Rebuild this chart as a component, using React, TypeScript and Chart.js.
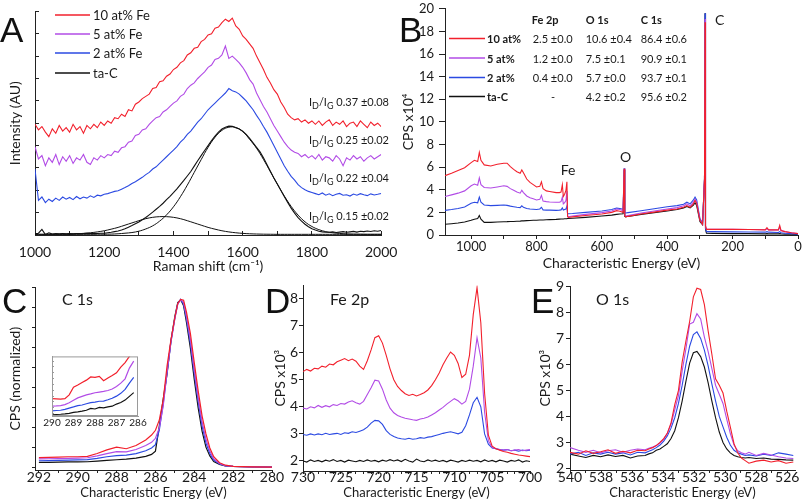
import React, { useEffect, useRef } from "react";
import { Chart, registerables } from "chart.js";

Chart.register(...registerables);

const FONT = "Lato, 'Open Sans', 'DejaVu Sans', sans-serif";
const RED = "#f2202c";
const PURPLE = "#b24ce6";
const BLUE = "#2b4ae2";
const BLACK = "#111111";
const SERIES_COLORS = [RED, PURPLE, BLUE, BLACK];
const TEXT = "#1a1a1a";

// ---------------- Panel A : Raman ----------------
const ramanShift = [
  1000, 1010, 1020, 1030, 1040, 1050, 1060, 1070, 1080, 1090,
  1100, 1110, 1120, 1130, 1140, 1150, 1160, 1170, 1180, 1190,
  1200, 1210, 1220, 1230, 1240, 1250, 1260, 1270, 1280, 1290,
  1300, 1310, 1320, 1330, 1340, 1350, 1360, 1370, 1380, 1390,
  1400, 1410, 1420, 1430, 1440, 1450, 1460, 1470, 1480, 1490,
  1500, 1510, 1520, 1530, 1540, 1550, 1560, 1570, 1580, 1590,
  1600, 1610, 1620, 1630, 1640, 1650, 1660, 1670, 1680, 1690,
  1700, 1710, 1720, 1730, 1740, 1750, 1760, 1770, 1780, 1790,
  1800, 1810, 1820, 1830, 1840, 1850, 1860, 1870, 1880, 1890,
  1900, 1910, 1920, 1930, 1940, 1950, 1960, 1970, 1980, 1990,
  2000,
];
const ramanFe10 = [
  4.95, 4.7, 4.85, 4.6, 4.4, 4.75, 4.55, 4.9, 4.65, 4.8,
  4.6, 4.95, 4.7, 4.85, 4.55, 4.9, 4.75, 4.95, 4.8, 5.05,
  4.9, 5.1, 5.0, 5.25, 5.2, 5.4, 5.3, 5.6, 5.55, 5.85,
  5.95, 6.1, 6.2, 6.3, 6.55, 6.6, 6.85, 6.9, 7.1, 7.2,
  7.4, 7.5, 7.7, 7.8, 8.05, 8.15, 8.35, 8.4, 8.65, 8.75,
  8.95, 9.0, 9.25, 9.3, 9.5, 9.65, 9.55, 9.7, 9.35, 9.2,
  8.9, 8.75, 8.55, 8.35, 8.0, 7.7, 7.4, 7.05, 6.8, 6.5,
  6.3, 5.95, 5.7, 5.4, 5.25, 5.15, 5.2, 5.05, 5.15, 5.0,
  5.1, 4.95, 5.1, 4.9, 5.05, 5.15, 4.9, 5.05, 4.95, 5.1,
  4.85, 5.0, 5.05, 4.85, 5.1, 4.95, 4.8, 5.05, 4.9, 5.0,
  4.85,
];
const ramanFe5 = [
  3.95, 3.4, 3.55, 3.1, 3.45, 3.25, 3.6, 3.15, 3.5, 3.3,
  3.55, 3.2, 3.45, 3.35, 3.6, 3.25, 3.15, 3.45, 3.35, 3.55,
  3.45, 3.6, 3.55, 3.75, 3.7, 3.9, 3.95, 4.15, 4.2, 4.45,
  4.5, 4.7, 4.75, 4.95, 5.1, 5.25, 5.3, 5.5, 5.6, 5.75,
  5.9, 6.0, 6.2, 6.3, 6.55, 6.7, 6.8, 7.0, 7.15, 7.3,
  7.5, 7.6, 7.85, 7.9, 8.05, 8.45, 7.9, 8.0, 7.85, 7.7,
  7.5, 7.25, 6.95, 6.75, 6.35, 6.05, 5.75, 5.5, 5.2, 4.9,
  4.65, 4.4, 4.15, 3.95, 3.8, 3.7, 3.65, 3.5, 3.6, 3.45,
  3.55, 3.4, 3.6, 3.35, 3.5, 3.45, 3.3, 3.55, 3.4, 3.1,
  3.45, 3.35, 3.55, 3.4, 3.5, 3.3, 3.45, 3.55, 3.4, 3.5,
  3.6,
];
const ramanFe2 = [
  2.95, 1.55, 1.7, 1.45, 1.6, 1.5, 1.65, 1.55, 1.7, 1.6,
  1.68, 1.58, 1.72, 1.62, 1.7, 1.65, 1.75, 1.68, 1.78, 1.75,
  1.82, 1.85, 1.9, 1.95, 1.98, 2.05, 2.12, 2.2, 2.3, 2.38,
  2.48, 2.58, 2.7, 2.8, 2.95, 3.05, 3.2, 3.35, 3.5, 3.65,
  3.8, 3.95, 4.15, 4.3, 4.5, 4.65, 4.85, 5.05, 5.2, 5.4,
  5.6, 5.75, 5.9, 6.05, 6.2, 6.35, 6.55, 6.45, 6.4, 6.3,
  6.15, 6.0, 5.8, 5.6, 5.35, 5.12, 4.85, 4.6, 4.3, 4.0,
  3.7, 3.4, 3.1, 2.85, 2.62, 2.45, 2.25, 2.12, 2.02, 1.95,
  1.9, 1.85, 1.8, 1.88, 1.78, 1.84, 1.76, 1.82, 1.86, 1.78,
  1.8, 1.74, 1.83, 1.78, 1.85, 1.8, 1.76, 1.84, 1.79, 1.82,
  1.86,
];
const ramanTaC = [
  0.05, 0.08, 0.25, 0.02, 0.1, 0.04, 0.06, 0.05, 0.07, 0.05,
  0.06, 0.05, 0.07, 0.06, 0.06, 0.08, 0.07, 0.06, 0.07, 0.08,
  0.08, 0.1, 0.12, 0.15, 0.18, 0.22, 0.28, 0.35, 0.42, 0.5,
  0.58, 0.68, 0.78, 0.9, 1.02, 1.15, 1.28, 1.42, 1.58, 1.73,
  1.89, 2.06, 2.25, 2.44, 2.64, 2.84, 3.08, 3.32, 3.55, 3.78,
  4.0, 4.22, 4.42, 4.6, 4.74, 4.82, 4.87, 4.86, 4.8, 4.74,
  4.64, 4.5, 4.32, 4.12, 3.92, 3.72, 3.45, 3.15, 2.85, 2.55,
  2.28, 2.0, 1.72, 1.46, 1.2, 0.98, 0.78, 0.62, 0.48, 0.37,
  0.28, 0.22, 0.17, 0.14, 0.12, 0.12, 0.14, 0.11, 0.13, 0.15,
  0.12, 0.14, 0.16, 0.13, 0.17, 0.15, 0.18, 0.16, 0.19, 0.17,
  0.2,
];
const fitShift = [
  1000, 1020, 1040, 1060, 1080, 1100, 1120, 1140, 1160, 1180,
  1200, 1220, 1240, 1260, 1280, 1300, 1320, 1340, 1360, 1380,
  1400, 1420, 1440, 1460, 1480, 1500, 1520, 1540, 1560, 1580,
  1600, 1620, 1640, 1660, 1680, 1700, 1720, 1740, 1760, 1780,
  1800, 1820, 1840, 1860, 1880, 1900, 1920, 1940, 1960, 1980,
  2000,
];
const fitDBand = [
  0.03, 0.03, 0.03, 0.032, 0.035, 0.044, 0.055, 0.073, 0.1, 0.138,
  0.19, 0.26, 0.34, 0.44, 0.54, 0.64, 0.73, 0.79, 0.82, 0.82,
  0.79, 0.73, 0.64, 0.54, 0.44, 0.34, 0.26, 0.19, 0.138, 0.1,
  0.073, 0.055, 0.044, 0.037, 0.033, 0.03, 0.03, 0.03, 0.03, 0.03,
  0.03, 0.03, 0.03, 0.03, 0.03, 0.03, 0.03, 0.03, 0.03, 0.03,
  0.03,
];
const fitGBand = [
  0.03, 0.03, 0.03, 0.03, 0.03, 0.03, 0.03, 0.03, 0.03, 0.035,
  0.036, 0.04, 0.055, 0.08, 0.11, 0.17, 0.27, 0.41, 0.62, 0.9,
  1.26, 1.71, 2.23, 2.8, 3.37, 3.92, 4.37, 4.68, 4.82, 4.81,
  4.63, 4.28, 3.88, 3.38, 2.83, 2.28, 1.75, 1.28, 0.89, 0.59,
  0.38, 0.24, 0.15, 0.1, 0.07, 0.05, 0.04, 0.035, 0.03, 0.03,
  0.03,
];
const ramanLegend = ["10 at% Fe", "5 at% Fe", "2 at% Fe", "ta-C"];
const idigRatios = ["0.37 ±0.08", "0.25 ±0.02", "0.22 ±0.04", "0.15 ±0.02"];
const ramanTicks = [1000, 1200, 1400, 1600, 1800, 2000];

// ---------------- Panel B : XPS survey ----------------
const surveyEnergy = [
  1080, 1060, 1040, 1020, 1000, 990, 980, 975, 970, 960,
  940, 920, 900, 890, 880, 870, 860, 850, 845, 840,
  830, 820, 810, 800, 790, 785, 780, 770, 760, 740,
  730, 725, 721, 718, 714, 710, 707, 705, 703, 690,
  650, 600, 570, 555, 545, 535, 532, 530, 527, 520,
  480, 440, 400, 370, 350, 340, 330, 320, 315, 310,
  300, 292, 286, 284.5, 283, 280, 260, 200, 150, 100,
  95, 90, 60, 56, 52, 40, 20, 0,
];
const surveyFe10 = [
  5.25, 5.45, 5.7, 5.95, 6.4, 6.6, 6.5, 7.3, 6.6, 6.2,
  6.1, 6.25, 6.35, 6.35, 6.05, 5.8, 5.6, 5.45, 5.75, 5.5,
  4.95, 4.65, 4.45, 4.25, 4.3, 4.7, 4.1, 3.9, 3.85, 3.75,
  3.75, 3.8, 4.45, 3.4, 3.6, 3.95, 4.7, 1.65, 1.55, 1.6,
  1.72, 1.85, 2.0, 2.15, 2.1, 2.0, 5.85, 1.7, 1.6, 1.65,
  1.85, 2.02, 2.2, 2.3, 2.45, 2.6, 2.45, 2.75, 3.05, 2.8,
  1.3, 0.95, 5.0, 18.8, 0.8, 0.5, 0.5, 0.5, 0.48, 0.45,
  0.65, 0.45, 0.45, 0.85, 0.4, 0.3, 0.2, 0.12,
];
const surveyFe5 = [
  3.4, 3.55, 3.7, 3.9, 4.35, 4.5, 4.4, 5.05, 4.45, 4.2,
  4.15, 4.25, 4.35, 4.3, 4.1, 3.95, 3.8, 3.7, 3.95, 3.75,
  3.45, 3.3, 3.2, 3.1, 3.15, 3.5, 3.0, 2.95, 2.92, 2.9,
  2.9, 2.95, 3.35, 2.75, 2.85, 3.05, 3.9, 1.7, 1.62, 1.68,
  1.82, 1.98, 2.12, 2.3, 2.25, 2.15, 5.85, 1.75, 1.68, 1.72,
  1.95, 2.12, 2.3, 2.42, 2.58, 2.75, 2.58, 2.9, 3.15, 2.92,
  1.35, 0.95, 5.0, 19.1, 0.8, 0.5, 0.5, 0.5, 0.48, 0.46,
  0.55, 0.45, 0.44, 0.7, 0.4, 0.3, 0.2, 0.12,
];
const surveyFe2 = [
  2.18, 2.25, 2.35, 2.48, 2.8, 2.9, 2.85, 3.35, 2.9, 2.65,
  2.6, 2.62, 2.65, 2.62, 2.55, 2.5, 2.45, 2.42, 2.58, 2.45,
  2.35, 2.3, 2.28, 2.25, 2.3, 2.45, 2.22, 2.2, 2.2, 2.18,
  2.2, 2.22, 2.4, 2.2, 2.25, 2.3, 2.55, 1.9, 1.88, 1.9,
  2.0, 2.12, 2.25, 2.38, 2.35, 2.28, 5.9, 2.0, 1.95, 1.98,
  2.15, 2.32, 2.5, 2.6, 2.72, 2.9, 2.75, 3.1, 3.35, 3.1,
  1.45, 1.05, 5.0, 19.6, 0.6, 0.3, 0.3, 0.28, 0.26, 0.25,
  0.3, 0.25, 0.22, 0.3, 0.2, 0.15, 0.12, 0.08,
];
const surveyTaC = [
  0.95, 1.0, 1.06, 1.15, 1.3, 1.4, 1.45, 1.72, 1.4, 1.12,
  1.12, 1.15, 1.17, 1.18, 1.2, 1.2, 1.22, 1.23, 1.25, 1.25,
  1.27, 1.28, 1.3, 1.3, 1.32, 1.32, 1.33, 1.35, 1.36, 1.38,
  1.4, 1.41, 1.42, 1.42, 1.43, 1.44, 1.45, 1.46, 1.46, 1.48,
  1.56, 1.68, 1.76, 1.82, 1.85, 1.88, 5.75, 1.65, 1.6, 1.65,
  1.82, 1.98, 2.12, 2.25, 2.4, 2.52, 2.4, 2.65, 2.85, 2.6,
  1.2, 0.9, 5.0, 19.6, 0.5, 0.15, 0.14, 0.12, 0.12, 0.1,
  0.12, 0.1, 0.1, 0.12, 0.1, 0.08, 0.06, 0.05,
];
const surveyTicks = [1000, 800, 600, 400, 200, 0];
const surveyYTicks = [0, 2, 4, 6, 8, 10, 12, 14, 16, 18, 20];
const surveyPeakLabels = ["Fe", "O", "C"];
const tableHeaders = ["Fe 2p", "O 1s", "C 1s"];
const tableSamples = ["10 at%", "5 at%", "2 at%", "ta-C"];
const tableFe2p = ["2.5 ±0.0", "1.2 ±0.0", "0.4 ±0.0", "-"];
const tableO1s = ["10.6 ±0.4", "7.5 ±0.1", "5.7 ±0.0", "4.2 ±0.2"];
const tableC1s = ["86.4 ±0.6", "90.9 ±0.1", "93.7 ±0.1", "95.6 ±0.2"];

// ---------------- Panel C : C 1s ----------------
const c1sEnergy = [
  292, 291.5, 291, 290.5, 290, 289.5, 289, 288.5, 288, 287.5,
  287, 286.5, 286.2, 286, 285.8, 285.6, 285.4, 285.2, 285, 284.85,
  284.7, 284.55, 284.4, 284.2, 284, 283.8, 283.6, 283.4, 283.2, 283,
  282.7, 282.4, 282, 281, 280,
];
const c1sFe10 = [
  0.26, 0.265, 0.27, 0.28, 0.28, 0.29, 0.36, 0.45, 0.52, 0.48,
  0.56, 0.7, 0.82, 0.94, 1.2, 1.7, 2.55, 3.2, 3.75, 4.1,
  4.2, 4.18, 3.88, 3.35, 2.62, 1.92, 1.3, 0.85, 0.5, 0.28,
  0.13, 0.07, 0.04, 0.03, 0.02,
];
const c1sFe5 = [
  0.225, 0.23, 0.235, 0.24, 0.245, 0.255, 0.3, 0.36, 0.41, 0.4,
  0.46, 0.56, 0.64, 0.74, 1.0, 1.55, 2.4, 3.15, 3.72, 4.08,
  4.2, 4.12, 3.78, 3.2, 2.45, 1.75, 1.15, 0.72, 0.42, 0.23,
  0.11, 0.06, 0.04, 0.03, 0.02,
];
const c1sFe2 = [
  0.18, 0.185, 0.19, 0.195, 0.2, 0.21, 0.24, 0.28, 0.31, 0.32,
  0.36, 0.43, 0.5, 0.58, 0.95, 1.6, 2.38, 3.15, 3.74, 4.1,
  4.2, 4.08, 3.7, 3.1, 2.35, 1.65, 1.05, 0.62, 0.36, 0.2,
  0.1, 0.05, 0.04, 0.03, 0.02,
];
const c1sTaC = [
  0.14, 0.14, 0.145, 0.15, 0.15, 0.155, 0.17, 0.19, 0.205, 0.22,
  0.245, 0.29, 0.34, 0.42, 1.05, 1.72, 2.35, 3.18, 3.78, 4.12,
  4.19, 4.04, 3.62, 2.98, 2.2, 1.5, 0.92, 0.52, 0.3, 0.16,
  0.09, 0.05, 0.04, 0.03, 0.02,
];
const c1sTicks = [292, 290, 288, 286, 284, 282, 280];
const insetEnergy = [
  290, 289.8, 289.6, 289.4, 289.2, 289, 288.8, 288.6, 288.4, 288.2,
  288, 287.8, 287.6, 287.4, 287.2, 287, 286.8, 286.6, 286.4, 286.2,
];
const insetFe10 = [
  0.279, 0.277, 0.274, 0.279, 0.311, 0.377, 0.395, 0.416, 0.437, 0.464,
  0.461, 0.469, 0.432, 0.456, 0.477, 0.5, 0.548, 0.587, 0.64, 0.7,
];
const insetFe5 = [
  0.214, 0.216, 0.219, 0.227, 0.243, 0.264, 0.285, 0.298, 0.311, 0.319,
  0.329, 0.335, 0.34, 0.348, 0.361, 0.382, 0.411, 0.448, 0.54, 0.6,
];
const insetFe2 = [
  0.174, 0.177, 0.179, 0.187, 0.198, 0.208, 0.219, 0.224, 0.235, 0.245,
  0.248, 0.256, 0.258, 0.269, 0.282, 0.3, 0.324, 0.358, 0.411, 0.46,
];
const insetTaC = [
  0.14, 0.143, 0.145, 0.148, 0.153, 0.161, 0.166, 0.172, 0.179, 0.195,
  0.19, 0.203, 0.2, 0.208, 0.214, 0.232, 0.245, 0.266, 0.298, 0.33,
];
const insetTicks = [290, 289, 288, 287, 286];

// ---------------- Panel D : Fe 2p ----------------
const fe2pEnergy = [
  730, 729.5, 729, 728.5, 728, 727.5, 727, 726.5, 726, 725.5,
  725, 724.5, 724, 723.5, 723, 722.5, 722, 721.5, 721, 720.5,
  720, 719.5, 719, 718.5, 718, 717.5, 717, 716.5, 716, 715.5,
  715, 714.5, 714, 713.5, 713, 712.5, 712, 711.5, 711, 710.5,
  710, 709.5, 709, 708.5, 708, 707.5, 707, 706.5, 706, 705.5,
  705, 704.5, 704, 703.5, 703, 702.5, 702, 701.5, 701, 700.5,
  700,
];
const fe2pFe10 = [
  5.3, 5.38, 5.32, 5.42, 5.4, 5.5, 5.46, 5.58, 5.55, 5.66,
  5.72, 5.78, 5.7, 5.76, 5.68, 5.5, 5.38, 5.7, 6.1, 6.55,
  6.62, 6.35, 5.9, 5.4, 5.0, 4.75, 4.6, 4.48, 4.42, 4.46,
  4.4, 4.45, 4.52, 4.62, 4.78, 5.0, 5.25, 5.55, 5.8, 6.02,
  5.9, 5.6, 5.08, 5.2, 5.9, 7.4, 8.4, 7.1, 4.5, 2.95,
  2.55, 2.45, 2.4, 2.35, 2.32, 2.28, 2.25, 2.22, 2.2, 2.18,
  2.16,
];
const fe2pFe5 = [
  3.95, 3.92, 4.0, 3.96, 4.05, 3.98, 4.04, 4.0, 4.08, 4.05,
  4.12, 4.1, 4.18, 4.22, 4.15, 4.1, 4.2, 4.45, 4.7, 4.98,
  4.95, 4.65, 4.25, 3.95, 3.78, 3.68, 3.62, 3.58, 3.55, 3.52,
  3.5, 3.55, 3.58, 3.62, 3.7, 3.78, 3.88, 3.98, 4.1, 4.2,
  4.3, 4.22, 4.1, 4.2, 4.65, 5.5, 6.55, 5.8, 3.8, 2.75,
  2.5, 2.45, 2.42, 2.4, 2.42, 2.38, 2.4, 2.42, 2.38, 2.4,
  2.42,
];
const fe2pFe2 = [
  2.98, 2.95, 3.0, 2.96, 3.0, 2.97, 3.02, 2.98, 3.0, 3.02,
  2.98, 3.04, 3.02, 3.08, 3.05, 3.1, 3.15, 3.25, 3.4, 3.5,
  3.48, 3.35, 3.12, 2.98, 2.9, 2.85, 2.82, 2.8, 2.84, 2.8,
  2.82, 2.86, 2.84, 2.88, 2.9, 2.94, 2.98, 3.02, 3.05, 3.08,
  3.04, 3.0, 3.06, 3.3, 3.7, 4.15, 4.35, 4.0, 3.0, 2.62,
  2.48, 2.45, 2.42, 2.4, 2.42, 2.38, 2.4, 2.36, 2.4, 2.38,
  2.4,
];
const fe2pTaC = [
  2.0, 1.96, 2.04, 1.98, 2.02, 1.97, 2.03, 1.99, 2.05, 1.98,
  2.02, 1.96, 2.03, 2.0, 1.97, 2.02, 1.98, 2.04, 1.99, 2.02,
  1.97, 2.03, 1.99, 2.05, 2.0, 2.04, 1.98, 2.06, 2.0, 1.96,
  2.07, 2.0, 1.97, 2.04, 1.99, 2.03, 1.98, 2.02, 1.97, 2.03,
  2.0, 1.96, 2.02, 1.98, 2.03, 1.99, 2.02, 1.97, 2.04, 1.98,
  2.02, 1.97, 2.03, 2.0, 1.96, 2.02, 1.99, 2.04, 1.96, 2.01,
  1.98,
];
const fe2pTicks = [730, 725, 720, 715, 710, 705, 700];
const fe2pYTicks = [2, 3, 4, 5, 6, 7, 8];

// ---------------- Panel E : O 1s ----------------
const o1sEnergy = [
  540, 539.46, 538.98, 538.5, 538.03, 537.55, 537.07, 536.59, 536.11, 535.64,
  535.16, 534.92, 534.68, 534.44, 534.2, 533.96, 533.73, 533.49, 533.25, 533.01,
  532.77, 532.53, 532.29, 532.05, 531.82, 531.58, 531.34, 531.1, 530.86, 530.62,
  530.38, 530.14, 529.9, 529.67, 529.43, 529.19, 528.95, 528.71, 528.47, 528.0,
  527.52, 527.04, 526.56, 526.08, 525.61,
];
const o1sFe10 = [
  2.62, 2.55, 2.68, 2.58, 2.64, 2.72, 2.58, 2.66, 2.6, 2.7,
  2.68, 2.75, 2.8, 2.88, 3.0, 3.15, 3.35, 3.75, 4.45, 5.0,
  6.1, 6.9, 7.65, 8.6, 8.93, 8.88, 8.3, 7.3, 6.4, 5.45,
  5.2, 4.9, 4.2, 3.6, 2.95, 2.6, 2.4, 2.3, 2.2, 2.28,
  2.32, 2.25, 2.3, 2.2, 2.25,
];
const o1sFe5 = [
  2.8, 2.7, 2.62, 2.7, 2.6, 2.68, 2.72, 2.62, 2.7, 2.75,
  2.72, 2.78, 2.82, 2.88, 2.98, 3.12, 3.35, 3.7, 4.25, 4.8,
  5.75, 6.6, 7.55, 7.62, 7.95, 7.75, 7.05, 6.5, 5.85, 5.2,
  4.85, 4.5, 3.9, 3.35, 2.9, 2.68, 2.6, 2.55, 2.62, 2.5,
  2.58, 2.52, 2.45, 2.4, 2.38,
];
const o1sFe2 = [
  2.55, 2.62, 2.5, 2.6, 2.55, 2.62, 2.55, 2.6, 2.52, 2.62,
  2.6, 2.66, 2.72, 2.8, 2.9, 3.05, 3.25, 3.55, 3.95, 4.5,
  5.2, 6.0, 6.7, 7.15, 7.25, 7.0, 6.55, 5.95, 5.25, 4.6,
  4.0, 3.6, 3.2, 2.9, 2.7, 2.6, 2.55, 2.5, 2.52, 2.48,
  2.55, 2.5, 2.6, 2.55, 2.5,
];
const o1sTaC = [
  2.55, 2.48, 2.42, 2.5, 2.45, 2.52, 2.46, 2.5, 2.4, 2.48,
  2.5, 2.56, 2.6, 2.7, 2.75, 2.85, 2.95, 3.15, 3.45, 3.95,
  4.6, 5.35, 6.05, 6.45, 6.5, 6.3, 5.9, 5.3, 4.6, 3.95,
  3.4, 3.0, 2.75, 2.6, 2.5, 2.45, 2.42, 2.4, 2.42, 2.38,
  2.4, 2.36, 2.35, 2.33, 2.32,
];
const o1sTicks = [540, 538, 536, 534, 532, 530, 528, 526];
const o1sYTicks = [2, 3, 4, 5, 6, 7, 8, 9];

const panelLetters = ["A", "B", "C", "D", "E"];

// ---------------- helpers ----------------
const pts = (xs: number[], ys: number[]) => xs.map((x, i) => ({ x, y: ys[i] }));
const series = (xs: number[], ys: number[], color: string, width = 1.1, tension = 0) => ({
  data: pts(xs, ys),
  borderColor: color,
  borderWidth: width,
  pointRadius: 0,
  fill: false,
  tension,
});
const fourSeries = (xs: number[], arrs: number[][], width = 1.1) =>
  arrs.map((a, i) => series(xs, a, SERIES_COLORS[i], width));

function axis(o: any) {
  const col = o.color ?? "#222";
  return {
    type: "linear",
    position: o.pos,
    min: o.min,
    max: o.max,
    reverse: !!o.reverse,
    afterFit: (s: any) => {
      if (o.pos === "left") s.width = o.size;
      else s.height = o.size;
    },
    border: { display: true, color: col, width: 1 },
    grid: {
      display: true,
      drawOnChartArea: false,
      drawTicks: true,
      tickLength: o.tickLen ?? 4,
      color: col,
      lineWidth: 1,
    },
    ticks: {
      display: true,
      stepSize: o.step,
      includeBounds: false,
      autoSkip: false,
      maxRotation: 0,
      minRotation: 0,
      padding: o.pad ?? 3,
      color: TEXT,
      font: { family: FONT, size: o.fs ?? 14, lineHeight: 1.2 },
      callback: (v: number) =>
        (o.labels || []).some((t: number) => Math.abs(t - v) < 1e-6) ? String(v) : "",
    },
    title: o.title
      ? {
          display: true,
          text: o.title,
          color: TEXT,
          font: { family: FONT, size: o.tfs ?? 14, lineHeight: 1.2 },
          padding: { top: o.tpad ?? 0, bottom: o.tpad ?? 0 },
        }
      : { display: false },
  };
}

function baseOptions(scales: any, padding: any) {
  return {
    responsive: false,
    maintainAspectRatio: false,
    animation: false,
    devicePixelRatio: 1,
    events: [],
    layout: { padding },
    plugins: { legend: { display: false }, tooltip: { enabled: false } },
    scales,
  };
}

function textPlugin(id: string, L: number, T: number, draw: (ctx: CanvasRenderingContext2D) => void) {
  return {
    id,
    afterDraw(chart: any) {
      const ctx = chart.ctx as CanvasRenderingContext2D;
      ctx.save();
      ctx.translate(-L, -T);
      ctx.fillStyle = TEXT;
      ctx.textBaseline = "alphabetic";
      ctx.textAlign = "left";
      draw(ctx);
      ctx.restore();
    },
  };
}

// ---------------- configs ----------------
function configA(L: number, T: number) {
  const ann = textPlugin("annA", L, T, (ctx) => {
    const ly = [15, 34, 53, 73];
    ramanLegend.forEach((name, i) => {
      ctx.strokeStyle = SERIES_COLORS[i];
      ctx.lineWidth = 1.5;
      ctx.beginPath();
      ctx.moveTo(55, ly[i]);
      ctx.lineTo(90, ly[i]);
      ctx.stroke();
      ctx.font = `13px ${FONT}`;
      ctx.textBaseline = "middle";
      ctx.fillText(name, 93, ly[i] + 0.5);
    });
    ctx.textBaseline = "alphabetic";
    const rb = [106, 144, 182, 220];
    idigRatios.forEach((txt, i) => {
      const parts: [string, number, number][] = [
        ["I", 11, 0],
        ["D", 9, 3],
        ["/I", 11, 0],
        ["G", 9, 3],
        [" " + txt, 11, 0],
      ];
      let w = 0;
      parts.forEach((p) => {
        ctx.font = `${p[1]}px ${FONT}`;
        w += ctx.measureText(p[0]).width;
      });
      let x = 389 - w;
      parts.forEach((p) => {
        ctx.font = `${p[1]}px ${FONT}`;
        ctx.fillText(p[0], x, rb[i] + p[2]);
        x += ctx.measureText(p[0]).width;
      });
    });
  });
  return {
    type: "line",
    data: {
      datasets: [
        ...fourSeries(ramanShift, [ramanFe10, ramanFe5, ramanFe2, ramanTaC], 1.1),
        series(fitShift, fitDBand, BLACK, 1, 0.4),
        series(fitShift, fitGBand, BLACK, 1, 0.4),
      ],
    },
    options: baseOptions(
      {
        x: axis({ pos: "bottom", min: 1000, max: 2000, step: 100, labels: ramanTicks, size: 41, tickLen: -4, pad: 12.6, fs: 14, title: "Raman shift (cm⁻¹)", tpad: 1 }),
        y: axis({ pos: "left", min: 0, max: 10, step: 1, labels: [], size: 35, tickLen: -4, title: "Intensity (AU)", tpad: 6.6 }),
      },
      { left: 0, top: 7, right: 19, bottom: 0 }
    ),
    plugins: [ann],
  };
}

function configB(L: number, T: number) {
  const ann = textPlugin("annB", L, T, (ctx) => {
    ctx.font = `bold 11px ${FONT}`;
    const colX = [531.7, 585.7, 640.7];
    tableHeaders.forEach((h, i) => ctx.fillText(h, colX[i], 24));
    const rowY = [43, 62.5, 82, 101];
    tableSamples.forEach((s, i) => {
      ctx.strokeStyle = SERIES_COLORS[i];
      ctx.lineWidth = 1.6;
      ctx.beginPath();
      ctx.moveTo(449, rowY[i] - 4.5);
      ctx.lineTo(485, rowY[i] - 4.5);
      ctx.stroke();
      ctx.font = `bold 11px ${FONT}`;
      ctx.textAlign = "left";
      ctx.fillText(s, 487, rowY[i]);
      ctx.font = `11px ${FONT}`;
      if (tableFe2p[i] === "-") {
        ctx.textAlign = "center";
        ctx.fillText(tableFe2p[i], 553, rowY[i]);
        ctx.textAlign = "left";
      } else {
        ctx.fillText(tableFe2p[i], 532.7, rowY[i]);
      }
      ctx.fillText(tableO1s[i], 585.7, rowY[i]);
      ctx.fillText(tableC1s[i], 640.7, rowY[i]);
    });
    ctx.font = `14px ${FONT}`;
    ctx.textAlign = "center";
    ctx.fillText(surveyPeakLabels[0], 568, 175);
    ctx.fillText(surveyPeakLabels[1], 625.5, 162);
    ctx.textAlign = "left";
    ctx.fillText(surveyPeakLabels[2], 715, 25);
  });
  return {
    type: "line",
    data: {
      datasets: fourSeries(surveyEnergy, [surveyFe10, surveyFe5, surveyFe2, surveyTaC], 1.1),
    },
    options: baseOptions(
      {
        x: axis({ pos: "bottom", min: 0, max: 1080, reverse: true, step: 100, labels: surveyTicks, size: 37, tickLen: 4, pad: 0, fs: 13, title: "Characteristic Energy (eV)", tpad: 0 }),
        y: axis({ pos: "left", min: 0, max: 20, step: 2, labels: surveyYTicks, size: 49, tickLen: 6, pad: 5, fs: 13, title: "CPS x10⁴", tpad: 3.6 }),
      },
      { left: 0, top: 11, right: 8, bottom: 0 }
    ),
    plugins: [ann],
  };
}

function configC(L: number, T: number) {
  const ann = textPlugin("annC", L, T, (ctx) => {
    ctx.font = `16px ${FONT}`;
    ctx.fillText("C 1s", 62, 305);
  });
  return {
    type: "line",
    data: { datasets: fourSeries(c1sEnergy, [c1sFe10, c1sFe5, c1sFe2, c1sTaC], 1.2) },
    options: baseOptions(
      {
        x: axis({ pos: "bottom", min: 280, max: 292.2, reverse: true, step: 1, labels: c1sTicks, size: 34, tickLen: 3, pad: -4, fs: 14, title: "Characteristic Energy (eV)", tfs: 13, tpad: 3 }),
        y: axis({ pos: "left", min: -0.05, max: 4.5, step: 0.5, labels: [], size: 35, tickLen: 3, title: "CPS (normalized)", tpad: 6.6 }),
      },
      { left: 0, top: 9, right: 20, bottom: 0 }
    ),
    plugins: [ann],
  };
}

function configInset(L: number, T: number) {
  const frame = {
    id: "insetFrame",
    beforeDraw(chart: any) {
      const { ctx, chartArea: a } = chart;
      ctx.save();
      ctx.fillStyle = "#ffffff";
      ctx.fillRect(a.left, a.top, a.right - a.left, a.bottom - a.top);
      ctx.restore();
    },
    afterDraw(chart: any) {
      const { ctx, chartArea: a } = chart;
      ctx.save();
      ctx.strokeStyle = "#9a9a9a";
      ctx.lineWidth = 1;
      ctx.strokeRect(a.left + 0.5, a.top + 0.5, a.right - a.left - 1, a.bottom - a.top - 1);
      ctx.restore();
    },
  };
  return {
    type: "line",
    data: { datasets: fourSeries(insetEnergy, [insetFe10, insetFe5, insetFe2, insetTaC], 1.2) },
    options: baseOptions(
      {
        x: axis({ pos: "bottom", min: 286, max: 290, reverse: true, step: 1, labels: insetTicks, size: 14, tickLen: 0, pad: 1, fs: 10, color: "#9a9a9a" }),
        y: axis({ pos: "left", min: 0.13, max: 0.64, step: 0.05, labels: [], size: 12, tickLen: -2, color: "#9a9a9a" }),
      },
      { left: 0, top: 7, right: 12, bottom: 0 }
    ),
    plugins: [frame],
  };
}

function configD(L: number, T: number) {
  const ann = textPlugin("annD", L, T, (ctx) => {
    ctx.font = `16px ${FONT}`;
    ctx.fillText("Fe 2p", 330, 304.5);
  });
  return {
    type: "line",
    data: { datasets: fourSeries(fe2pEnergy, [fe2pFe10, fe2pFe5, fe2pFe2, fe2pTaC], 1.1) },
    options: baseOptions(
      {
        x: axis({ pos: "bottom", min: 700, max: 730, reverse: true, step: 1, labels: fe2pTicks, size: 33, tickLen: 3, pad: -4.5, fs: 14, title: "Characteristic Energy (eV)", tfs: 13, tpad: 3 }),
        y: axis({ pos: "left", min: 1.63, max: 8.48, step: 1, labels: fe2pYTicks, size: 33, tickLen: 4, pad: 1, fs: 14, title: "CPS x10³", tpad: 1.6 }),
      },
      { left: 0, top: 9, right: 15, bottom: 0 }
    ),
    plugins: [ann],
  };
}

function configE(L: number, T: number) {
  const ann = textPlugin("annE", L, T, (ctx) => {
    ctx.font = `16px ${FONT}`;
    ctx.fillText("O 1s", 596, 304.5);
  });
  return {
    type: "line",
    data: { datasets: fourSeries(o1sEnergy, [o1sFe10, o1sFe5, o1sFe2, o1sTaC], 1.1) },
    options: baseOptions(
      {
        x: axis({ pos: "bottom", min: 525.5, max: 540, reverse: true, step: 1, labels: o1sTicks, size: 34, tickLen: 3, pad: -4, fs: 14, title: "Characteristic Energy (eV)", tfs: 13, tpad: 3 }),
        y: axis({ pos: "left", min: 1.94, max: 9, step: 1, labels: o1sYTicks, size: 35, tickLen: 4, pad: 2, fs: 14, title: "CPS x10³", tpad: 1.6 }),
      },
      { left: 0, top: 9, right: 15, bottom: 0 }
    ),
    plugins: [ann],
  };
}

function ChartBox(props: { left: number; top: number; width: number; height: number; make: (L: number, T: number) => any }) {
  const { left, top, width, height, make } = props;
  const ref = useRef<HTMLCanvasElement>(null);
  useEffect(() => {
    const chart = new Chart(ref.current as HTMLCanvasElement, make(left, top) as any);
    return () => chart.destroy();
  }, []);
  return (
    <canvas
      ref={ref}
      width={width}
      height={height}
      style={{ position: "absolute", left, top, width, height, display: "block" }}
    />
  );
}

const letterLayout = [
  { l: 0, t: 12 },
  { l: 399, t: 12 },
  { l: 2, t: 283 },
  { l: 265, t: 283 },
  { l: 531, t: 283 },
];

export default function App() {
  return (
    <div
      style={{
        position: "absolute",
        left: 0,
        top: 0,
        width: 803,
        height: 504,
        overflow: "hidden",
        background: "#ffffff",
      }}
    >
      <ChartBox left={0} top={0} width={410} height={276} make={configA} />
      <ChartBox left={396} top={-4} width={410} height={276} make={configB} />
      <ChartBox left={0} top={276} width={292} height={228} make={configC} />
      <ChartBox left={270} top={276} width={275} height={228} make={configD} />
      <ChartBox left={535} top={276} width={275} height={228} make={configE} />
      <ChartBox left={40} top={345} width={110} height={85} make={configInset} />
      {panelLetters.map((ch, i) => (
        <div
          key={ch}
          style={{
            position: "absolute",
            left: letterLayout[i].l,
            top: letterLayout[i].t,
            fontFamily: "'Liberation Sans', Arial, sans-serif",
            fontSize: 35,
            lineHeight: "35px",
            color: "#111",
          }}
        >
          {ch}
        </div>
      ))}
    </div>
  );
}
